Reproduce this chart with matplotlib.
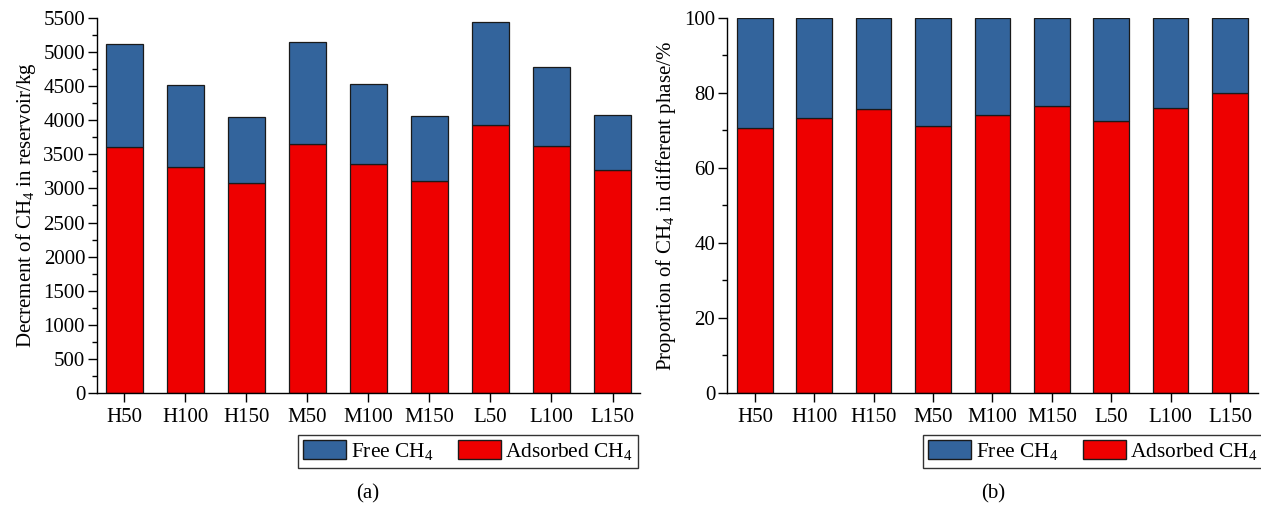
import matplotlib
matplotlib.use("Agg")
import matplotlib.pyplot as plt
from matplotlib.patches import Patch
from matplotlib.ticker import MultipleLocator
import numpy as np

plt.rcParams.update({
    "font.family": "Liberation Serif", "font.size": 15,
    "mathtext.fontset": "custom", "mathtext.rm": "Liberation Serif",
    "axes.spines.top": False, "axes.spines.right": False, "axes.linewidth": 1.0,
})

cases = ["H50", "H100", "H150", "M50", "M100", "M150", "L50", "L100", "L150"]
# panel (a): decrement of CH4 (kg)
total_kg = [5113, 4515, 4054, 5147, 4529, 4064, 5436, 4775, 4074]
adsorbed_kg = [3608, 3309, 3078, 3657, 3353, 3108, 3931, 3627, 3265]
# panel (b): proportion of adsorbed CH4 (%)
adsorbed_pct = [70.7, 73.4, 75.8, 71.1, 74.1, 76.5, 72.4, 75.9, 80.0]

BLUE = "#33649C"
RED = "#EE0000"
CH4 = r"CH$_\mathregular{4}$"

fig = plt.figure(figsize=(12.61, 5.07), dpi=100)
ax1 = fig.add_axes([0.0769, 0.2249, 0.4306, 0.7396])
ax2 = fig.add_axes([0.5765, 0.2249, 0.4211, 0.7396])

x = np.arange(len(cases))
w = 0.6
kw = dict(width=w, edgecolor="#1a1a1a", linewidth=0.9)

free_kg = [t - a for t, a in zip(total_kg, adsorbed_kg)]
ax1.bar(x, adsorbed_kg, color=RED, **kw)
ax1.bar(x, free_kg, bottom=adsorbed_kg, color=BLUE, **kw)
ax1.set_ylim(0, 5500)
ax1.set_xlim(-0.45, 8.45)
ax1.yaxis.set_major_locator(MultipleLocator(500))
ax1.yaxis.set_minor_locator(MultipleLocator(250))
ax1.set_ylabel(f"Decrement of {CH4} in reservoir/kg")

free_pct = [100 - a for a in adsorbed_pct]
ax2.bar(x, adsorbed_pct, color=RED, **kw)
ax2.bar(x, free_pct, bottom=adsorbed_pct, color=BLUE, **kw)
ax2.set_ylim(0, 100)
ax2.set_xlim(-0.47, 8.47)
ax2.yaxis.set_major_locator(MultipleLocator(20))
ax2.yaxis.set_minor_locator(MultipleLocator(10))
ax2.set_ylabel(f"Proportion of {CH4} in different phase/%")

for ax in (ax1, ax2):
    ax.set_xticks(x)
    ax.set_xticklabels(cases)
    ax.tick_params(axis="both", which="major", direction="out", length=6.5, width=1.0)
    ax.tick_params(axis="y", which="minor", direction="out", length=3.8, width=1.0)
    ax.tick_params(axis="x", pad=4)
    ax.tick_params(axis="y", pad=2)

handles = [Patch(facecolor=BLUE, edgecolor="#1a1a1a", label=f"Free {CH4}"),
           Patch(facecolor=RED, edgecolor="#1a1a1a", label=f"Adsorbed {CH4}")]
for left in (298 / 1261, 923 / 1261):
    leg = fig.legend(handles=handles, ncol=2, loc="upper left",
                     bbox_to_anchor=(left, 1 - 435 / 507), fontsize=15.4,
                     frameon=True, fancybox=False, edgecolor="black",
                     handlelength=2.0, handleheight=1.0, handletextpad=0.22,
                     columnspacing=1.15, borderpad=0.25, borderaxespad=0)
    leg.get_frame().set_linewidth(1.0)

fig.text(368 / 1261, 1 - 494 / 507, "(a)", ha="center", va="center")
fig.text(993 / 1261, 1 - 494 / 507, "(b)", ha="center", va="center")

fig.savefig("out.png", dpi=100)
